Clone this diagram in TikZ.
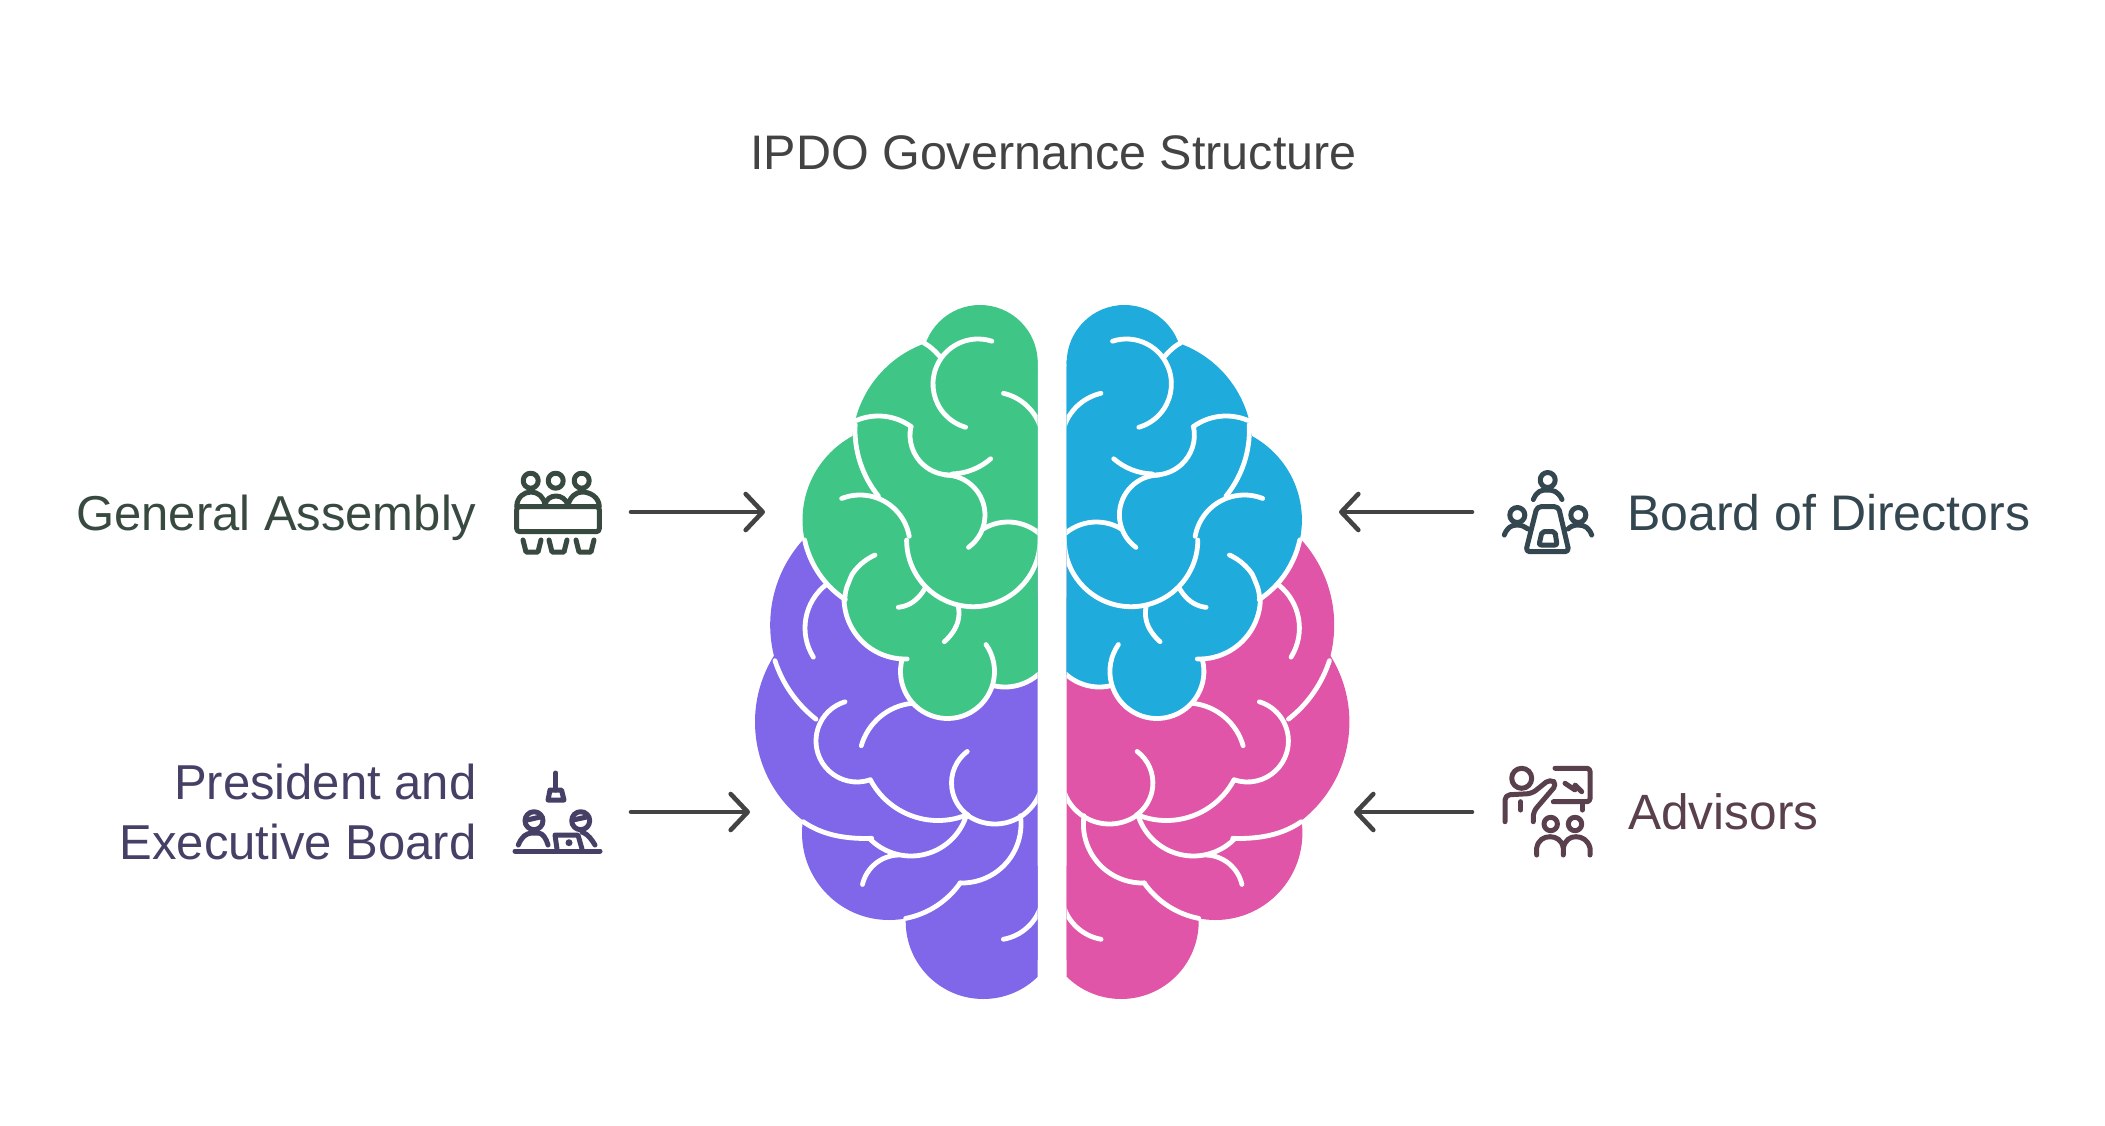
\documentclass[tikz,border=0pt]{standalone}
\usepackage{fontspec}
\setmainfont{Liberation Sans}
\usetikzlibrary{arrows.meta}

\definecolor{assemblygreen}{HTML}{3FC687}
\definecolor{directorsblue}{HTML}{1FABDC}
\definecolor{presidentviolet}{HTML}{8066E8}
\definecolor{advisorspink}{HTML}{E055A8}
\definecolor{titlegrey}{HTML}{434343}
\definecolor{assemblytext}{HTML}{384A40}
\definecolor{presidenttext}{HTML}{463F66}
\definecolor{directorstext}{HTML}{34464F}
\definecolor{advisorstext}{HTML}{5A3F4D}

\tikzset{
  lobe/.style={smooth,tension=1},
  fold/.style={draw=white,line width=4.8pt,line cap=round,line join=round},
  glyph/.style={line width=5pt,line cap=round,line join=round},
  labeltext/.style={font=\fontsize{49}{52}\selectfont,inner sep=0pt}
}

% centre x, centre y, radius, start angle, end angle
\newcommand{\foldarc}[5]{
  \draw[fold] ({#1+#3*cos(#4)},{#2+#3*sin(#4)}) arc[start angle=#4,end angle=#5,radius=#3];
}

% one half of the brain, x runs up to the middle gap
\newcommand{\brainhalf}[2]{
  \begin{scope}
    \clip (700,250) rectangle (1037.7,1050);
    % lower lobes
    \fill[#2] (897,625) circle (126.8);
    \fill[#2] (880,722) circle (125);
    \fill[#2] (889,833) circle (87);
    \fill[#2] (983.3,921.4) circle (77.6);
    \fill[#2] (1037.7,550) -- (900,550) -- (830,650) -- (830,800) -- (900,900) -- (950,950) -- (1037.7,960) -- cycle;
    \foldarc{860}{628}{55}{232}{148}
    \foldarc{891}{623}{122}{162}{128}
    \foldarc{857}{741}{41}{253}{71}
    \foldarc{938}{744}{76.5}{152}{69}
    \foldarc{918}{762}{59}{196}{264}
    \foldarc{991}{783}{39.5}{233}{125}
    \foldarc{995}{776}{48}{125}{20}
    \draw[fold] plot[lobe] coordinates {(803.3,821.7) (833.3,835) (871.7,838.3)};
    \foldarc{911}{798}{58}{134}{19}
    \foldarc{899.5}{893}{38}{193}{268}
    \foldarc{962}{824}{59}{-8}{92}
    \foldarc{889}{833}{87}{35}{79}
    \foldarc{995}{892}{48}{80}{15}
    % upper lobes
    \fill[#1] (980,362.7) circle (57.7);
    \fill[#1] (962,447) circle (110);
    \fill[#1] (898,520) circle (95.5);
    \fill[#1] (905,598) circle (61);
    \fill[#1] (947.5,671.5) circle (47);
    \fill[#1] (1005,636.5) circle (50.5);
    \fill[#1] (1037.7,360) -- (930,360) -- (870,440) -- (850,520) -- (860,600) -- (905,650) -- (947,680) -- (1037.7,675) -- cycle;
    \foldarc{898}{520}{95.5}{168}{123.5}
    \foldarc{905}{598}{61}{180}{88}
    \foldarc{947.5}{671.5}{47}{195}{-35}
    \foldarc{1005}{636.5}{50.5}{103}{35}
    \draw[fold] plot[lobe] coordinates {(924.3,343.3) (931.7,348.3) (940,356.7)};
    \foldarc{978}{384}{45}{288}{106}
    \foldarc{992}{443}{51}{283}{345}
    \foldarc{878.3}{472}{56}{247}{306}
    \foldarc{950}{435}{40}{192}{88}
    \foldarc{945}{515}{40}{270}{414}
    \foldarc{950}{412}{62}{88}{49}
    \foldarc{960}{430}{105}{183}{141}
    \foldarc{860}{545}{50}{248.5}{350}
    \foldarc{973.3}{540}{66.7}{180}{0}
    \foldarc{1008}{570}{48}{238}{320}
    \draw[fold] plot[lobe] coordinates {(875,555) (858.3,566.7) (848.3,583.3) (845,598)};
    \draw[fold] plot[lobe] coordinates {(925,588.3) (913.3,601.7) (898.3,607.3)};
    \draw[fold] plot[lobe] coordinates {(958.3,606.7) (956.7,625) (944.3,641.7)};
  \end{scope}
}

\begin{document}
\begin{tikzpicture}[x=1pt,y=-1pt]
      \useasboundingbox (0,0) rectangle (2105,1126);

      \brainhalf{assemblygreen}{presidentviolet}
      \begin{scope}[shift={(2104.4,0)},xscale=-1]
        \brainhalf{directorsblue}{advisorspink}
      \end{scope}

      \node[anchor=base,font=\fontsize{48.5}{52}\selectfont,inner sep=0pt,text=titlegrey] (title) at (1053.5,170) {IPDO Governance Structure};

      \begin{scope}[every node/.style={labeltext}]
        \node[anchor=base east,text=assemblytext] (assembly) at (476.7,530) {General Assembly};
        \node[anchor=base east,text=presidenttext] (president) at (476.7,799.5) {President and};
        \node[anchor=base east,text=presidenttext] (executive) at (476.7,859) {Executive Board};
        \node[anchor=base west,text=directorstext,font=\fontsize{50}{52}\selectfont] (directors) at (1627,530) {Board of Directors};
        \node[anchor=base west,text=advisorstext,font=\fontsize{49.6}{52}\selectfont] (advisors) at (1628,829) {Advisors};
      \end{scope}

      \coordinate (assemblyout) at (631,512);
      \coordinate (assemblyin) at (765,512);
      \coordinate (presidentout) at (631,812);
      \coordinate (presidentin) at (750,812);
      \coordinate (directorsout) at (1472,512);
      \coordinate (directorsin) at (1339,512);
      \coordinate (advisorsout) at (1472,812);
      \coordinate (advisorsin) at (1354,812);

      \begin{scope}[every edge/.style={draw=titlegrey,line width=4.6pt,line cap=round,-{Straight Barb[length=17pt,width=36pt,line join=round,round]}}]
        \path (assemblyout) edge (assemblyin);
        \path (presidentout) edge (presidentin);
        \path (directorsout) edge (directorsin);
        \path (advisorsout) edge (advisorsin);
      \end{scope}

      % General Assembly icon
      \begin{scope}[glyph,draw=assemblytext]
        \draw (530.7,480.7) circle (7.5);
        \draw (555.7,480.7) circle (7.5);
        \draw (581.7,480.7) circle (7.5);
        \draw[rounded corners=3pt] (516.7,531.7) rectangle (599.3,506.7);
        \draw (516.7,506.7) .. controls (517,497) and (524,492) .. (531,492) .. controls (538,492) and (544,497) .. (545,505);
        \draw (545,505) .. controls (546,499) and (551,496) .. (556,496) .. controls (561,496) and (566,499) .. (568,505);
        \draw (568,505) .. controls (570,497) and (576,492) .. (582,492) .. controls (590,492) and (599,497) .. (599.3,506.7);
        \draw (523,540) -- (526,552) -- (538,552) -- (541,540);
        \draw (549,540) -- (552,552) -- (564,552) -- (567,540);
        \draw (576,540) -- (579,552) -- (591,552) -- (594,540);
      \end{scope}

      % President and Executive Board icon
      \begin{scope}[glyph,draw=presidenttext]
        \draw (555.7,773) -- (555.7,790);
        \draw (548,800) -- (550,790) -- (561.5,790) -- (564,800) -- cycle;
        \draw (534,820.7) circle (9);
        \draw (580.7,820.7) circle (9);
        \draw (527,820) -- (541.7,816.7);
        \draw (573,820) -- (588,816.7);
        \draw (518.3,845) .. controls (522,836) and (526,834) .. (531,833) -- (539,833) .. controls (543,834) and (546,838) .. (548,845);
        \draw (515,851) -- (600,851);
        \draw (557,849) -- (555,835) -- (578,835) -- (582,849);
        \fill[presidenttext] (569,842.7) circle (3.5);
        \draw (582,832) .. controls (588,834) and (592,840) .. (595,845);
      \end{scope}

      % Board of Directors icon
      \begin{scope}[glyph,draw=directorstext]
        \draw (1547.7,480) circle (7.5);
        \draw (1533.3,499.5) .. controls (1537,491) and (1541,490) .. (1547,490) .. controls (1553,490) and (1558,491) .. (1562,499.5);
        \draw[rounded corners=4pt] (1537,506.7) -- (1558.5,506.7) -- (1569,551.7) -- (1525.7,551.7) -- cycle;
        \draw[rounded corners=2pt] (1542,531.7) -- (1555,531.7) -- (1557,545) -- (1539,545) -- cycle;
        \draw (1517.3,515) circle (7.5);
        \draw (1578.3,515) circle (7.5);
        \draw (1504.3,535) .. controls (1507,528) and (1511,525) .. (1517,525) .. controls (1522,525) and (1525,527) .. (1528,529);
        \draw (1591.7,535) .. controls (1589,528) and (1585,525) .. (1578,525) .. controls (1573,525) and (1570,527) .. (1568,529);
      \end{scope}

      % Advisors icon
      \begin{scope}[glyph,draw=advisorstext]
        \draw (1521.7,778.3) circle (10);
        \draw[rounded corners=5pt] (1505,821.7) -- (1505,795) -- (1532,793.5) -- (1550,779) -- (1557,784) -- (1533.3,811.7) -- (1533.3,821.7);
        \draw (1520.7,801.7) -- (1520.7,810);
        \draw[rounded corners=3pt] (1555,768.3) -- (1590,768.3) -- (1590,801.7) -- (1553.3,801.7);
        \draw (1582.3,803) -- (1582.3,810);
        \draw (1565,783.3) -- (1575,790) -- (1575,785) -- (1581.7,791.7);
        \draw (1550.7,824) circle (6.7);
        \draw (1575,824) circle (6.7);
        \draw (1536.7,855) -- (1536.7,848) .. controls (1538,840) and (1544,836.7) .. (1550,836.7) .. controls (1556,836.7) and (1562,840) .. (1563.3,848) -- (1563.3,855);
        \draw (1563.3,848) .. controls (1565,840) and (1570,836.7) .. (1576,836.7) .. controls (1582,836.7) and (1588,840) .. (1590,848) -- (1590,855);
      \end{scope}

    \end{tikzpicture}
\end{document}
